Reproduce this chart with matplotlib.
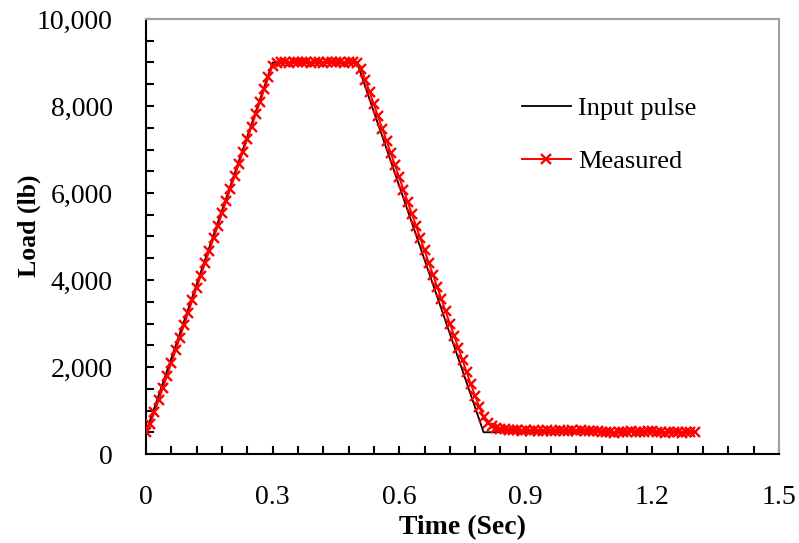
import numpy as np
import matplotlib
matplotlib.use("Agg")
import matplotlib.pyplot as plt
from matplotlib.ticker import MultipleLocator, FuncFormatter

# Input pulse (piecewise linear)
input_time = [0.0, 0.3, 0.5, 0.8, 1.3]
input_load = [500, 9000, 9000, 500, 500]

# Measured load, sampled every 0.01 s from 0 to 1.30 s
measured_time = np.round(np.arange(0, 131) * 0.01, 2)
measured_rise = [500, 700, 960, 1240, 1520, 1800, 2090, 2380, 2670, 2960,
                 3250, 3540, 3820, 4100, 4390, 4670, 4960, 5240, 5530, 5810,
                 6100, 6380, 6670, 6950, 7240, 7520, 7810, 8090, 8380, 8660,
                 8930]
measured_plateau = [8990, 9010, 9000, 8990, 9010, 9000, 9020, 9000, 8990, 9010,
                    9000, 8990, 9010, 9000, 9020, 9000, 8990, 9010, 9000, 8990]
measured_fall = [8850, 8600, 8320, 8040, 7760, 7480, 7200, 6920, 6640, 6360,
                 6080, 5800, 5520, 5240, 4960, 4680, 4400, 4120, 3840, 3560,
                 3280, 3000, 2720, 2440, 2160, 1880, 1600, 1330, 1080, 860,
                 720, 640, 600, 580]
measured_tail = [570, 560, 550, 550, 540, 550, 540, 550, 540, 540,
                 550, 540, 540, 550, 540, 540, 550, 540, 550, 540,
                 530, 540, 520, 500, 510, 500, 490, 500, 510, 500,
                 520, 500, 510, 500, 530, 520, 500, 510, 490, 500,
                 510, 500, 490, 500, 510, 500]
measured_load = measured_rise + measured_plateau + measured_fall + measured_tail

x_ticks = [0, 0.3, 0.6, 0.9, 1.2, 1.5]
x_tick_labels = ["0", "0.3", "0.6", "0.9", "1.2", "1.5"]
y_ticks = [0, 2000, 4000, 6000, 8000, 10000]

plt.rcParams['font.family'] = ['Liberation Serif', 'DejaVu Serif']

fig = plt.figure(figsize=(7.99, 5.43), dpi=100)
ax = fig.add_axes([146/799, 1-454/543, (779-146)/799, (454-19)/543])

ax.plot(input_time, input_load, color='black', lw=1.3, label='Input pulse', zorder=2)
ax.plot(measured_time, measured_load, color='#ff0000', lw=1.4, marker='x',
        markersize=7, markeredgewidth=1.7, label='Measured', zorder=3)

ax.set_xlim(0, 1.5)
ax.set_ylim(0, 10000)
ax.set_xticks(x_ticks)
ax.set_xticklabels(x_tick_labels)
ax.set_yticks(y_ticks)
ax.yaxis.set_major_formatter(FuncFormatter(lambda v, p: f"{int(v):,}"))
ax.xaxis.set_minor_locator(MultipleLocator(0.06))
ax.yaxis.set_minor_locator(MultipleLocator(500))

ax.tick_params(axis='both', which='both', direction='in', length=6, width=1.5,
               labelsize=20, top=False, right=False, colors='black')
ax.tick_params(axis='x', which='major', pad=22)
ax.tick_params(axis='y', which='major', pad=24)

for s in ['left', 'bottom']:
    ax.spines[s].set_color('black')
    ax.spines[s].set_linewidth(1.5)
for s in ['top', 'right']:
    ax.spines[s].set_color('#a0a0a0')
    ax.spines[s].set_linewidth(1.5)

ax.set_xlabel('Time (Sec)', fontsize=20, fontweight='bold')
ax.xaxis.set_label_coords(0.5, (454-515)/435)
ax.set_ylabel('Load (lb)', fontsize=18.5, fontweight='bold')
ax.yaxis.set_label_coords((41-146)/633, (454-226)/435)

leg = ax.legend(loc='upper left', bbox_to_anchor=(522/799, 1-97/543),
                bbox_transform=fig.transFigure, frameon=False, fontsize=19,
                handlelength=1.85, handletextpad=0.28, labelspacing=1.12,
                borderpad=0, borderaxespad=0)

fig.savefig('out.png', dpi=100)
